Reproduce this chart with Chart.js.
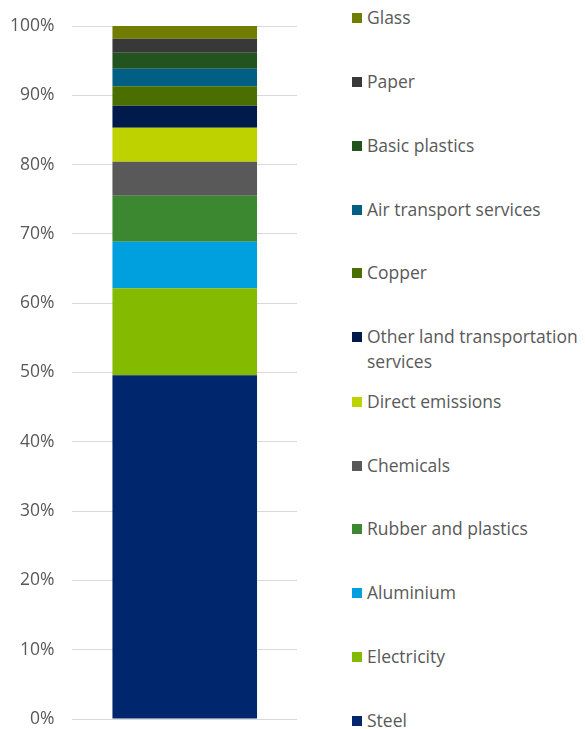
<!DOCTYPE html>
<html>
<head>
<meta charset="utf-8">
<script src="https://cdn.jsdelivr.net/npm/chart.js@4.4.0/dist/chart.umd.min.js"></script>
<style>
  html, body { margin: 0; padding: 0; background: #fff; overflow: hidden; }
  #wrap { position: relative; width: 585px; height: 729px; overflow: hidden; }
  #c { position: absolute; left: -8px; top: 0; }
  #legend { position: absolute; left: 352px; top: 0; width: 233px; font-family: "Open Sans", sans-serif; font-size: 17.5px; color: #595959; }
  .item { position: absolute; left: 0; display: flex; align-items: flex-start; line-height: 25px; }
  .sw { width: 10px; height: 10px; margin-top: 8px; margin-right: 5px; flex: 0 0 10px; }
  .txt { width: 218px; white-space: normal; }
</style>
</head>
<body>
<div id="wrap">
  <canvas id="c" width="306" height="729"></canvas>
  <div id="legend"></div>
</div>
<script>
const categories = [""];
const seriesNames = ["Steel", "Electricity", "Aluminium", "Rubber and plastics", "Chemicals", "Direct emissions", "Other land transportation services", "Copper", "Air transport services", "Basic plastics", "Paper", "Glass"];
const seriesValues = [49.6, 12.55, 6.72, 6.64, 4.91, 4.9, 3.18, 2.8, 2.54, 2.31, 2.02, 1.83];
const seriesColors = ["#00266e", "#84bb00", "#00a0de", "#3c8830", "#595959", "#bed200", "#001a4b", "#4b6e00", "#005f83", "#23531f", "#383838", "#717d00"];
const yTicks = [0, 10, 20, 30, 40, 50, 60, 70, 80, 90, 100];

const datasets = seriesNames.map((n, i) => ({
  label: n,
  data: [seriesValues[i]],
  backgroundColor: seriesColors[i],
  borderWidth: 0,
  categoryPercentage: 0.644,
  barPercentage: 1.0
}));

const chart = new Chart(document.getElementById('c'), {
  type: 'bar',
  data: { labels: categories, datasets },
  options: {
    responsive: false,
    maintainAspectRatio: false,
    animation: false,
    layout: { padding: { top: 0, bottom: 0, left: 0, right: 1 } },
    plugins: { legend: { display: false }, tooltip: { enabled: false } },
    scales: {
      x: { display: false, stacked: true },
      y: {
        stacked: true, min: 0, max: 100,
        afterBuildTicks: (axis) => { axis.ticks = yTicks.map(v => ({ value: v })); },
        afterFit: (axis) => { axis.paddingTop = 26; axis.paddingBottom = 10; },
        grid: { color: '#d9d9d9', lineWidth: 1, drawTicks: false },
        border: { display: false },
        ticks: { padding: 18, color: '#595959', font: { family: 'Open Sans', size: 17.5 }, callback: v => v + '%' }
      }
    }
  }
});

// HTML legend built from chart datasets, reversed (top = last series)
const legendTops = [17, 81, 145, 209, 272, 336, 401, 465, 528, 592, 656, 720];
const leg = document.getElementById('legend');
const labels = chart.options.plugins.legend.labels.generateLabels(chart).slice().reverse();
labels.forEach((l, k) => {
  const d = document.createElement('div');
  d.className = 'item';
  d.style.top = (legendTops[k] - 12.5) + 'px';
  d.innerHTML = '<div class="sw" style="background:' + l.fillStyle + '"></div><div class="txt">' + l.text + '</div>';
  leg.appendChild(d);
});
</script>
</body>
</html>
